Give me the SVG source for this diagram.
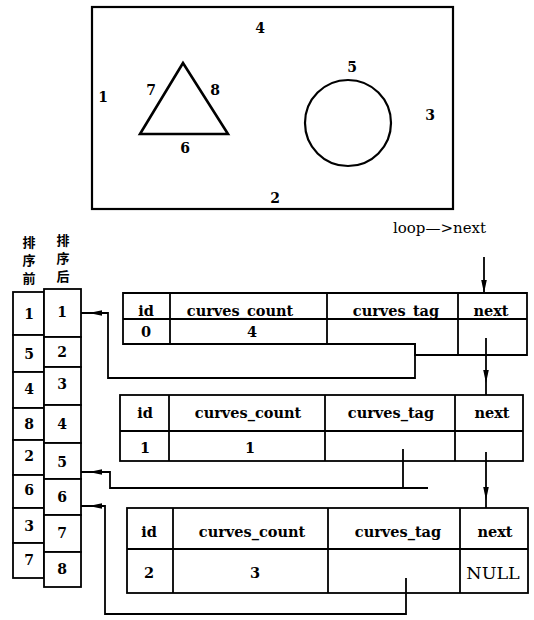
<svg xmlns="http://www.w3.org/2000/svg" xmlns:xlink="http://www.w3.org/1999/xlink" width="534" height="620" viewBox="0 0 534 620">
<defs>
<style>
.ln{fill:none;stroke:#000;stroke-width:1.8;stroke-linejoin:miter}
.cell{fill:#fff;stroke:#000;stroke-width:1.8}
.num{font-family:"DejaVu Serif","Liberation Serif",serif;font-weight:bold;font-size:14px;text-anchor:middle;fill:#000}
.tb{font-family:"DejaVu Serif","Liberation Serif",serif;font-weight:bold;font-size:14.5px;text-anchor:middle;fill:#000}
.cjk{font-family:"Noto Sans CJK SC","Noto Sans CJK JP",sans-serif;font-weight:bold;font-size:13px;text-anchor:middle;fill:#000}
.lbl{font-family:"DejaVu Serif","Liberation Serif",serif;font-size:15px;fill:#000}
</style>
<path id="ah" d="M0,0 L-13,-2.8 L-13,2.8 Z" fill="#000"/>
</defs>
<rect width="534" height="620" fill="#fff"/>

<g id="region">
<rect x="92" y="7" width="361" height="202" fill="none" stroke="#000" stroke-width="2.2"/>
<polygon points="183,63 140,134 228,134" fill="none" stroke="#000" stroke-width="2.6" stroke-linejoin="miter"/>
<circle cx="348" cy="123" r="43" fill="none" stroke="#000" stroke-width="2.2"/>
<text class="num" x="260" y="33">4</text>
<text class="num" x="103" y="102">1</text>
<text class="num" x="151" y="95">7</text>
<text class="num" x="215" y="95">8</text>
<text class="num" x="185" y="153">6</text>
<text class="num" x="352" y="72">5</text>
<text class="num" x="430" y="120">3</text>
<text class="num" x="275" y="203">2</text>
</g>

<g id="before-list">
<text class="cjk" x="29" y="247">排</text>
<text class="cjk" x="29" y="265">序</text>
<text class="cjk" x="29" y="283">前</text>
<rect class="cell" x="13" y="292" width="31" height="43"/>
<rect class="cell" x="13" y="335" width="31" height="37"/>
<rect class="cell" x="13" y="372" width="31" height="36"/>
<rect class="cell" x="13" y="408" width="31" height="32"/>
<rect class="cell" x="13" y="440" width="31" height="35"/>
<rect class="cell" x="13" y="475" width="31" height="33"/>
<rect class="cell" x="13" y="508" width="31" height="35"/>
<rect class="cell" x="13" y="543" width="31" height="35"/>
<text class="num" x="29" y="319">1</text>
<text class="num" x="29" y="359">5</text>
<text class="num" x="29" y="394">4</text>
<text class="num" x="29" y="429">8</text>
<text class="num" x="29" y="461">2</text>
<text class="num" x="29" y="495">6</text>
<text class="num" x="29" y="531">3</text>
<text class="num" x="29" y="565">7</text>
</g>

<g id="after-list">
<text class="cjk" x="63" y="245">排</text>
<text class="cjk" x="63" y="263">序</text>
<text class="cjk" x="63" y="281">后</text>
<rect class="cell" x="44" y="289" width="37" height="48"/>
<rect class="cell" x="44" y="337" width="37" height="30"/>
<rect class="cell" x="44" y="367" width="37" height="38"/>
<rect class="cell" x="44" y="405" width="37" height="38"/>
<rect class="cell" x="44" y="443" width="37" height="36"/>
<rect class="cell" x="44" y="479" width="37" height="36"/>
<rect class="cell" x="44" y="515" width="37" height="37"/>
<rect class="cell" x="44" y="552" width="37" height="35"/>
<text class="num" x="62" y="317">1</text>
<text class="num" x="62" y="357">2</text>
<text class="num" x="62" y="389">3</text>
<text class="num" x="62" y="429">4</text>
<text class="num" x="62" y="467">5</text>
<text class="num" x="62" y="502">6</text>
<text class="num" x="62" y="538">7</text>
<text class="num" x="62" y="574">8</text>
</g>

<g id="loop-label">
<text class="lbl" x="393" y="233">loop—&gt;next</text>
</g>

<g id="table-0">
<path class="ln" d="M123,293 H527 V355 H415 V344 H123 Z"/>
<path class="ln" d="M123,319 H527 M170,293 V344 M327,293 V344 M458,293 V355"/>
<text class="tb" x="146" y="316">id</text>
<text class="tb" x="240" y="316">curves_count</text>
<text class="tb" x="396" y="316">curves_tag</text>
<text class="tb" x="491" y="316">next</text>
<text class="tb" x="146" y="337">0</text>
<text class="tb" x="252" y="337">4</text>
</g>

<g id="table-1">
<rect class="cell" x="120" y="395" width="403" height="66"/>
<path class="ln" d="M120,431 H523 M169,395 V461 M325,395 V461 M455,395 V461"/>
<text class="tb" x="145" y="418">id</text>
<text class="tb" x="248" y="418">curves_count</text>
<text class="tb" x="391" y="418">curves_tag</text>
<text class="tb" x="492" y="418">next</text>
<text class="tb" x="145" y="453">1</text>
<text class="tb" x="250" y="453">1</text>
</g>

<g id="table-2">
<rect class="cell" x="127" y="508" width="401" height="85"/>
<path class="ln" d="M127,549 H528 M173,508 V593 M328,508 V593 M460,508 V593"/>
<text class="tb" x="149" y="537">id</text>
<text class="tb" x="252" y="537">curves_count</text>
<text class="tb" x="398" y="537">curves_tag</text>
<text class="tb" x="495" y="537">next</text>
<text class="tb" x="149" y="578">2</text>
<text class="tb" x="255" y="578">3</text>
<text class="tb" x="493" y="579" style="font-weight:normal;font-size:17.5px">NULL</text>
</g>

<g id="connectors">
<path class="ln" d="M484,257 V293"/>
<use xlink:href="#ah" transform="translate(484,293) rotate(90)"/>
<path class="ln" d="M486,338 V395"/>
<use xlink:href="#ah" transform="translate(486,383) rotate(90)"/>
<path class="ln" d="M486,452 V508"/>
<use xlink:href="#ah" transform="translate(486,500) rotate(90)"/>
<path class="ln" d="M415,343 V378 H108 V313 H81"/>
<use xlink:href="#ah" transform="translate(89,313) rotate(180)"/>
<path class="ln" d="M403,449 V488 M428,488 H110 V472 H81"/>
<use xlink:href="#ah" transform="translate(89,472) rotate(180)"/>
<path class="ln" d="M406,578 V614 H105 V506 H81"/>
<use xlink:href="#ah" transform="translate(89,506) rotate(180)"/>
</g>
</svg>
